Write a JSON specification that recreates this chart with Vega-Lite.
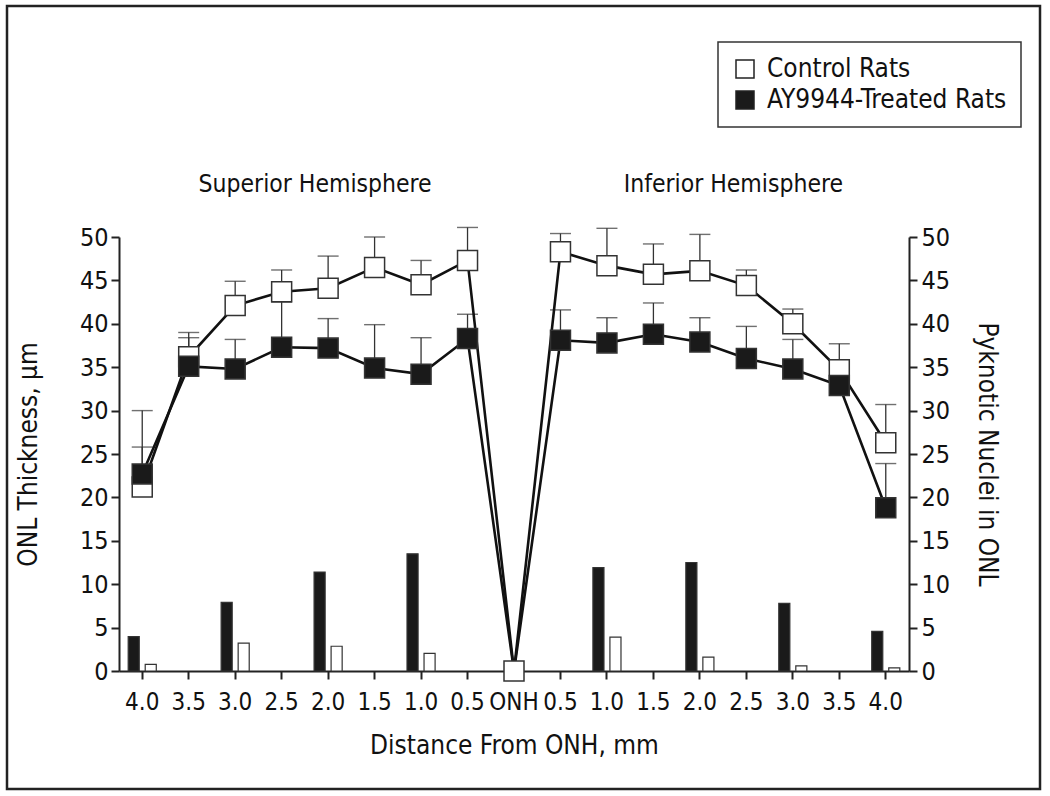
{
  "$schema": "https://vega.github.io/schema/vega-lite/v6.json",
  "width": 1033,
  "height": 783,
  "autosize": "none",
  "padding": {"left": 7, "top": 6, "right": 10, "bottom": 7},
  "background": "white",
  "config": {
    "font": "'DejaVu Sans Condensed', Roboto, sans-serif",
    "view": {"stroke": "#222", "strokeWidth": 2.5},
    "axis": {
      "grid": false,
      "domainColor": "#222",
      "domainWidth": 2,
      "tickColor": "#222",
      "tickWidth": 2,
      "tickSize": 8,
      "labelFontSize": 25,
      "labelColor": "#111",
      "titleFontSize": 26,
      "titleFontWeight": "normal",
      "titleColor": "#111"
    },
    "legend": {
      "strokeColor": "#333",
      "strokeWidth": 1.5,
      "padding": 14,
      "labelFontSize": 26,
      "labelColor": "#111",
      "labelLimit": 400,
      "symbolSize": 324,
      "symbolType": "square",
      "symbolStrokeColor": "#222",
      "symbolStrokeWidth": 1.5,
      "rowPadding": 5,
      "labelOffset": 9
    }
  },
  "datasets": {
    "main": [
      {"pos": "L4.0", "group": "Control Rats", "onl": 21.2, "upper": 25.8, "nuclei": 0.77},
      {"pos": "L3.5", "group": "Control Rats", "onl": 36.2, "upper": 39.0, "nuclei": null},
      {"pos": "L3.0", "group": "Control Rats", "onl": 42.1, "upper": 44.9, "nuclei": 3.2},
      {"pos": "L2.5", "group": "Control Rats", "onl": 43.7, "upper": 46.2, "nuclei": null},
      {"pos": "L2.0", "group": "Control Rats", "onl": 44.1, "upper": 47.8, "nuclei": 2.85},
      {"pos": "L1.5", "group": "Control Rats", "onl": 46.5, "upper": 50.0, "nuclei": null},
      {"pos": "L1.0", "group": "Control Rats", "onl": 44.5, "upper": 47.3, "nuclei": 2.04},
      {"pos": "L0.5", "group": "Control Rats", "onl": 47.3, "upper": 51.1, "nuclei": null},
      {"pos": "ONH", "group": "Control Rats", "onl": 0, "upper": null, "nuclei": null},
      {"pos": "R0.5", "group": "Control Rats", "onl": 48.3, "upper": 50.4, "nuclei": null},
      {"pos": "R1.0", "group": "Control Rats", "onl": 46.7, "upper": 51.0, "nuclei": 3.9},
      {"pos": "R1.5", "group": "Control Rats", "onl": 45.7, "upper": 49.2, "nuclei": null},
      {"pos": "R2.0", "group": "Control Rats", "onl": 46.1, "upper": 50.3, "nuclei": 1.6},
      {"pos": "R2.5", "group": "Control Rats", "onl": 44.4, "upper": 46.2, "nuclei": null},
      {"pos": "R3.0", "group": "Control Rats", "onl": 40.0, "upper": 41.7, "nuclei": 0.58},
      {"pos": "R3.5", "group": "Control Rats", "onl": 34.7, "upper": 37.7, "nuclei": null},
      {"pos": "R4.0", "group": "Control Rats", "onl": 26.3, "upper": 30.7, "nuclei": 0.35},
      {"pos": "L4.0", "group": "AY9944-Treated Rats", "onl": 22.7, "upper": 30.0, "nuclei": 3.95},
      {"pos": "L3.5", "group": "AY9944-Treated Rats", "onl": 35.1, "upper": 38.4, "nuclei": null},
      {"pos": "L3.0", "group": "AY9944-Treated Rats", "onl": 34.8, "upper": 38.2, "nuclei": 7.9},
      {"pos": "L2.5", "group": "AY9944-Treated Rats", "onl": 37.3, "upper": 42.5, "nuclei": null},
      {"pos": "L2.0", "group": "AY9944-Treated Rats", "onl": 37.2, "upper": 40.6, "nuclei": 11.4},
      {"pos": "L1.5", "group": "AY9944-Treated Rats", "onl": 34.9, "upper": 39.9, "nuclei": null},
      {"pos": "L1.0", "group": "AY9944-Treated Rats", "onl": 34.2, "upper": 38.4, "nuclei": 13.5},
      {"pos": "L0.5", "group": "AY9944-Treated Rats", "onl": 38.3, "upper": 41.1, "nuclei": null},
      {"pos": "ONH", "group": "AY9944-Treated Rats", "onl": 0, "upper": null, "nuclei": null},
      {"pos": "R0.5", "group": "AY9944-Treated Rats", "onl": 38.1, "upper": 41.6, "nuclei": null},
      {"pos": "R1.0", "group": "AY9944-Treated Rats", "onl": 37.8, "upper": 40.7, "nuclei": 11.9},
      {"pos": "R1.5", "group": "AY9944-Treated Rats", "onl": 38.8, "upper": 42.4, "nuclei": null},
      {"pos": "R2.0", "group": "AY9944-Treated Rats", "onl": 37.9, "upper": 40.7, "nuclei": 12.5},
      {"pos": "R2.5", "group": "AY9944-Treated Rats", "onl": 36.0, "upper": 39.7, "nuclei": null},
      {"pos": "R3.0", "group": "AY9944-Treated Rats", "onl": 34.8, "upper": 38.2, "nuclei": 7.8},
      {"pos": "R3.5", "group": "AY9944-Treated Rats", "onl": 32.9, "upper": 35.8, "nuclei": null},
      {"pos": "R4.0", "group": "AY9944-Treated Rats", "onl": 18.8, "upper": 23.9, "nuclei": 4.57}
    ],
    "labels": [
      {"pos": "L2.0", "y": 56, "label": "Superior Hemisphere"},
      {"pos": "R2.5", "y": 56, "label": "Inferior Hemisphere"}
    ]
  },
  "layer": [
    {
      "data": {"name": "main"},
      "transform": [{"filter": "datum.nuclei != null"}],
      "mark": {"type": "bar", "stroke": "#333", "strokeWidth": 1.2},
      "encoding": {
        "x": {
          "field": "pos", "type": "nominal",
          "scale": {
            "domain": ["L4.0","L3.5","L3.0","L2.5","L2.0","L1.5","L1.0","L0.5","ONH","R0.5","R1.0","R1.5","R2.0","R2.5","R3.0","R3.5","R4.0"],
            "range": [112, 902], "paddingInner": 0, "paddingOuter": 0
          },
          "axis": {
            "title": "Distance From ONH, mm",
            "offset": -118,
            "labelExpr": "datum.value == 'ONH' ? 'ONH' : substring(datum.value, 1)",
            "labelAngle": 0,
            "labelOverlap": false,
            "labelFontSize": 24,
            "labelPadding": 11,
            "titlePadding": 18
          }
        },
        "xOffset": {
          "field": "group", "type": "nominal",
          "scale": {"domain": ["AY9944-Treated Rats", "Control Rats"], "paddingInner": 0.35, "paddingOuter": 0.54}
        },
        "y": {
          "field": "nuclei", "type": "quantitative",
          "scale": {"domain": [0, 50], "range": [665, 231], "nice": false},
          "axis": {
            "orient": "right",
            "offset": -131,
            "values": [0, 5, 10, 15, 20, 25, 30, 35, 40, 45, 50],
            "title": "Pyknotic Nuclei in ONL",
            "titleAngle": 90,
            "labelPadding": 4,
            "titlePadding": 24
          }
        },
        "fill": {
          "field": "group", "type": "nominal",
          "scale": {"domain": ["Control Rats", "AY9944-Treated Rats"], "range": ["white", "#1a1a1a"]},
          "legend": {"title": null, "orient": "none", "legendX": 711, "legendY": 36}
        }
      }
    },
    {
      "data": {"name": "main"},
      "transform": [{"filter": "datum.upper != null"}],
      "mark": {"type": "rule", "color": "#333", "strokeWidth": 1.3},
      "encoding": {
        "x": {"field": "pos", "type": "nominal"},
        "y": {"field": "onl", "type": "quantitative", "axis": null},
        "y2": {"field": "upper"}
      }
    },
    {
      "data": {"name": "main"},
      "transform": [{"filter": "datum.upper != null"}],
      "mark": {"type": "tick", "color": "#333", "thickness": 1.4, "size": 21, "orient": "horizontal"},
      "encoding": {
        "x": {"field": "pos", "type": "nominal"},
        "y": {"field": "upper", "type": "quantitative", "axis": null}
      }
    },
    {
      "data": {"name": "main"},
      "mark": {"type": "line", "color": "#111", "strokeWidth": 2.6},
      "encoding": {
        "x": {"field": "pos", "type": "nominal"},
        "y": {
          "field": "onl", "type": "quantitative",
          "axis": {
            "orient": "left",
            "offset": -112,
            "values": [0, 5, 10, 15, 20, 25, 30, 35, 40, 45, 50],
            "title": "ONL Thickness, μm",
            "labelPadding": 3,
            "titlePadding": 38
          }
        },
        "detail": {"field": "group"}
      }
    },
    {
      "data": {"name": "main"},
      "transform": [{"filter": "datum.pos != 'ONH' || datum.group == 'Control Rats'"}],
      "mark": {"type": "point", "shape": "square", "filled": true, "size": 400, "stroke": "#333", "strokeWidth": 1.5, "opacity": 1},
      "encoding": {
        "x": {"field": "pos", "type": "nominal"},
        "y": {"field": "onl", "type": "quantitative", "axis": null},
        "fill": {"field": "group", "type": "nominal"}
      }
    },
    {
      "data": {"name": "labels"},
      "mark": {"type": "text", "fontSize": 24.5, "color": "#111", "dx": -13, "baseline": "middle"},
      "encoding": {
        "x": {"field": "pos", "type": "nominal"},
        "y": {"field": "y", "type": "quantitative", "axis": null},
        "text": {"field": "label"}
      }
    }
  ],
  "resolve": {"scale": {"y": "shared"}, "axis": {"y": "independent"}}
}
